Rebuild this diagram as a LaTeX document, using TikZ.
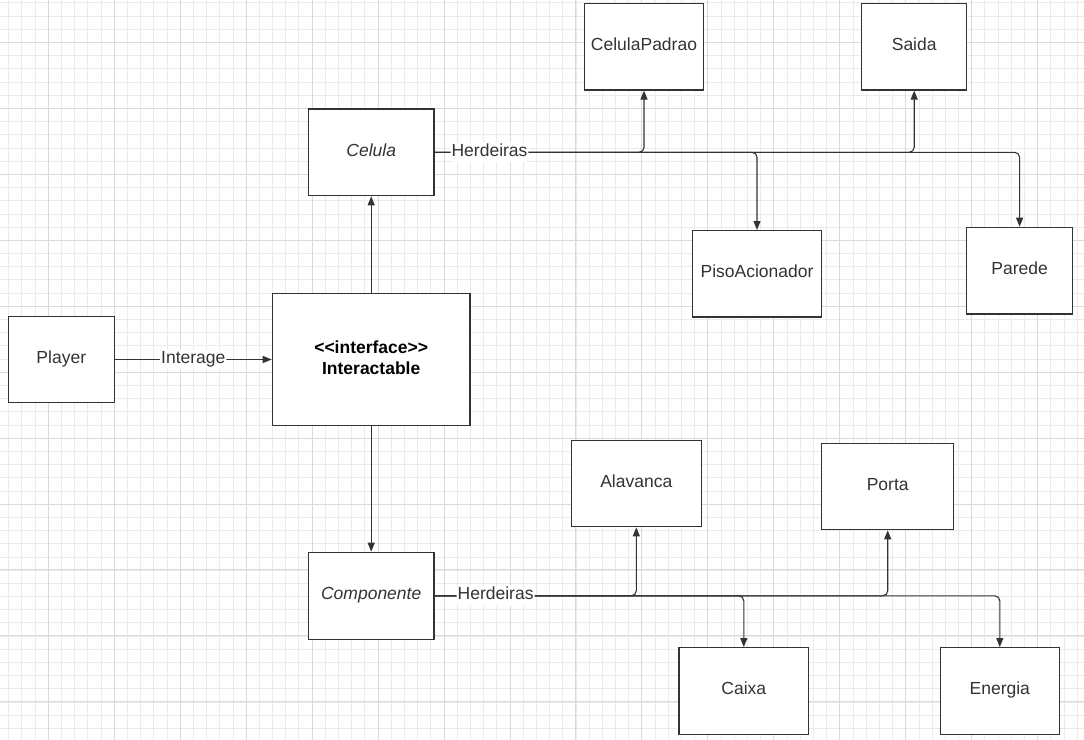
\documentclass[tikz,border=0pt]{standalone}
\usepackage{fontspec}
\setmainfont{Liberation Sans}
\usetikzlibrary{arrows.meta}
\definecolor{ink}{HTML}{333333}
\definecolor{gridminor}{HTML}{EBEBEB}
\definecolor{gridmajor}{HTML}{DADADA}
\tikzset{
  classbox/.style={draw=ink, line width=1.3bp, fill=white, text=ink, align=center,
    text height=12.6bp, text depth=5bp, font=\fontsize{17.5bp}{20.6bp}\selectfont},
  conn/.style={draw=ink, line width=1.1bp, rounded corners=5bp,
    -{Triangle[length=9bp,width=7bp]}},
  lbl/.style={fill=white, text=ink, inner sep=1bp, text height=12.6bp, text depth=5bp,
    font=\fontsize{17.5bp}{20.6bp}\selectfont},
  minorgrid/.style={draw=gridminor, line width=0.9bp},
  majorgrid/.style={draw=gridmajor, line width=1bp}
}
\begin{document}
\begin{tikzpicture}[x=1bp, y=-1bp]
\useasboundingbox[fill=white] (0,0) rectangle (1084,740);
% grid
\foreach \i in {0,...,81} \draw[minorgrid] ({8.7+13.192*\i},0) -- ++(0,740);
\foreach \i in {0,...,56} \draw[minorgrid] (0,{2.9+13.192*\i}) -- ++(1084,0);
\foreach \i in {0,...,15} \draw[majorgrid] ({48.3+65.96*\i},0) -- ++(0,740);
\foreach \i in {0,...,10} \draw[majorgrid] (0,{42.3+65.96*\i}) -- ++(1084,0);
% classes
\node[classbox, minimum width=106bp, minimum height=86.4bp] (player) at (61.3,359.5) {Player};
\node[classbox, minimum width=197.7bp, minimum height=131.6bp, text height=, text depth=4bp,
  font=\fontsize{17.5bp}{20.6bp}\selectfont\bfseries, text=black] (inter) at (371.2,359.5) {<{}<interface>{}>\\Interactable};
\node[classbox, minimum width=125.7bp, minimum height=86.7bp, font=\fontsize{17.5bp}{20.6bp}\selectfont\itshape] (celula) at (371.2,152.3) {Celula};
\node[classbox, minimum width=125.7bp, minimum height=87bp, font=\fontsize{17.5bp}{20.6bp}\selectfont\itshape] (comp) at (371.2,595.8) {Componente};
\node[classbox, minimum width=119.4bp, minimum height=86.3bp] (cpad) at (644,46.8) {CelulaPadrao};
\node[classbox, minimum width=105bp, minimum height=86.3bp] (saida) at (914.2,46.8) {Saida};
\node[classbox, minimum width=129.4bp, minimum height=86.3bp] (piso) at (757,273.8) {PisoAcionador};
\node[classbox, minimum width=105.8bp, minimum height=86.7bp] (parede) at (1019.6,270.7) {Parede};
\node[classbox, minimum width=130bp, minimum height=86.4bp] (alav) at (636.3,483.5) {Alavanca};
\node[classbox, minimum width=132bp, minimum height=86bp] (porta) at (887.7,486.7) {Porta};
\node[classbox, minimum width=129.7bp, minimum height=86.6bp] (caixa) at (743.8,691) {Caixa};
\node[classbox, minimum width=119bp, minimum height=86.6bp] (energia) at (999.8,691) {Energia};
% connectors
\draw[conn] (player) -- node[lbl] {Interage} (inter);
\draw[conn] (inter) -- (celula);
\draw[conn] (inter) -- (comp);
\draw[conn] (celula.east) -| (parede.north);
\draw[conn] (celula.east) -| (piso.north);
\draw[conn] (celula.east) -| (saida.south);
\draw[conn] (celula.east) -| node[lbl, pos=0.131] {Herdeiras} (cpad.south);
\draw[conn] (comp.east) -| (energia.north);
\draw[conn] (comp.east) -| (caixa.north);
\draw[conn] (comp.east) -| (porta.south);
\draw[conn] (comp.east) -| node[lbl, pos=0.151] {Herdeiras} (alav.south);
\end{tikzpicture}
\end{document}
